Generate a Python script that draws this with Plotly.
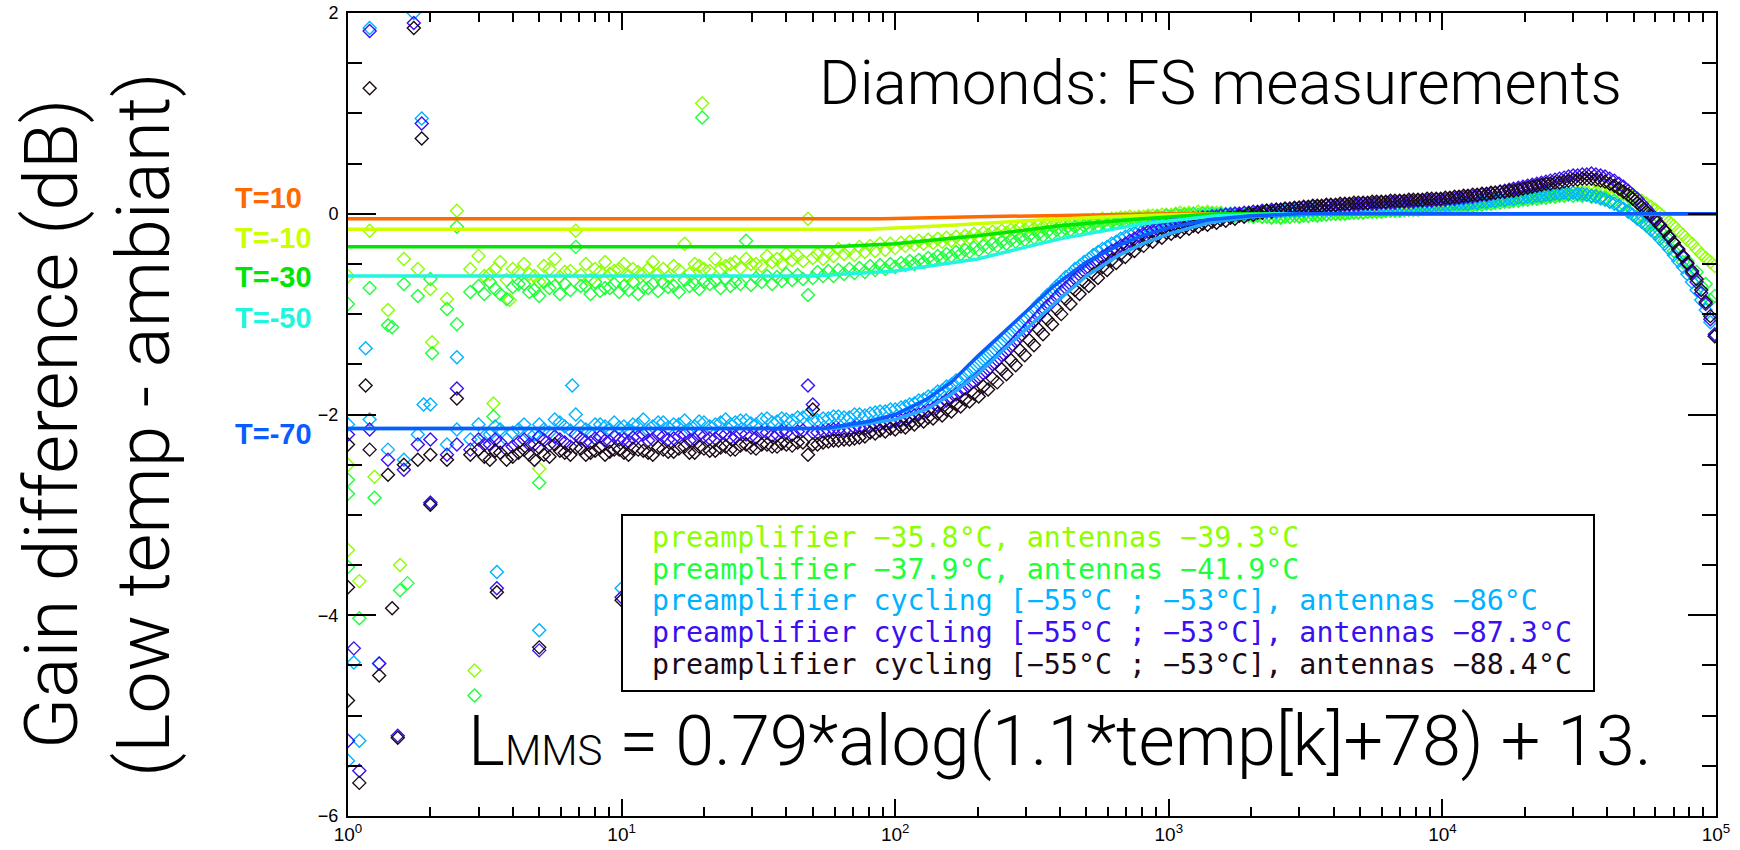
import plotly.graph_objects as go

# ---------------- data ----------------
freq = [1.0, 1.2, 1.4, 1.6, 1.8, 2.0, 2.3, 2.5, 2.8, 3.0, 3.3, 3.6, 4.0, 4.4, 4.8, 5.2, 5.7, 6.2, 6.8, 7.4, 8.0, 8.7, 9.4,
        10.2, 11, 12, 13, 14.2, 15.5, 17, 18.5, 20, 22, 24, 26, 28.5, 31, 34, 37, 40, 44, 48, 52, 57, 62, 68, 74, 81, 88, 96,
        105, 113, 122, 132, 143, 154, 167, 180, 194, 210, 227, 245, 265, 286, 309, 334, 360, 389, 420, 454, 490, 530, 572, 618, 667, 720, 778, 840, 907, 980,
        1060, 1140, 1230, 1330, 1440, 1550, 1680, 1810, 1960, 2110, 2280, 2470, 2660, 2880, 3110, 3360, 3620, 3910, 4230, 4570, 4930, 5330, 5750, 6210, 6710, 7250, 7830, 8450, 9130, 9860,
        10650, 11500, 12400, 13400, 14500, 15600, 16900, 18200, 19700, 21300, 23000, 24800, 26800, 28900, 31200, 33700, 36400, 39300, 42500, 45900, 49600, 53500, 57800, 62400, 67400, 72800, 78600, 84900, 91700, 99000]

# second sweep frequencies
freq_b = [3.15, 3.45, 3.8, 4.2, 4.6, 5.0, 5.45, 5.95, 6.5, 7.1, 7.7, 8.35, 9.05, 9.8,
          10.6, 11.5, 12.5, 13.6, 14.8, 16.2, 17.7, 19.2, 21, 23, 25, 27.2, 29.7, 32.5, 35.5, 38.5, 42, 46, 50, 54.5, 59.5, 65, 71, 77.5, 84.5, 92, 100,
          109, 117.5, 127, 137.5, 148.5, 160.5, 173.5, 187, 202, 218.5, 236, 255, 275.5, 297.5, 321.5, 347, 374.5, 404.5, 437, 472, 510, 551, 595, 642.5, 693.5, 749, 809, 873.5, 943.5, 1020,
          1100, 1185, 1280, 1385, 1495, 1615, 1745, 1885, 2035, 2195, 2375, 2565, 2770, 2995, 3235, 3490, 3765, 4070, 4400, 4750, 5130, 5540, 5980, 6460, 6980, 7540, 8140, 8790, 9495, 10250,
          11075, 11950, 12900, 13950, 15050, 16250, 17550, 18950, 20500, 22150, 23900, 25800, 27850, 30050, 32450, 35050, 37850, 40900, 44200, 47750, 51550, 55650, 60100, 64900, 70100, 75700, 81750, 88300, 95350]

# preamplifier -35.8C, antennas -39.3C
s1_vals = [-0.62, -0.17, -0.96, -0.45, -0.55, -0.75, -0.85, 0.03, -0.55, -0.42, -0.6, -0.48, -0.55, -0.5, -0.62, -0.52, -0.45, -0.58, -0.17, -0.5, -0.55, -0.48, -0.57,
           -0.5, -0.55, -0.6, -0.48, -0.55, -0.52, -0.3, -0.5, -0.55, -0.45, -0.52, -0.48, -0.45, -0.5, -0.42, -0.45, -0.4, -0.42, -0.05, -0.4, -0.38, -0.35, -0.36, -0.33, -0.32, -0.3, -0.3,
           -0.29, -0.28, -0.27, -0.26, -0.25, -0.24, -0.23, -0.22, -0.2, -0.19, -0.18, -0.17, -0.16, -0.14, -0.13, -0.12, -0.11, -0.1, -0.09, -0.08, -0.07, -0.06, -0.05, -0.05, -0.04, -0.03, -0.03, -0.02, -0.02, -0.01,
           0.0, 0.0, 0.0, 0.01, 0.01, 0.01, 0.0, 0.0, -0.01, -0.01, -0.02, -0.02, -0.02, -0.02, -0.01, -0.01, 0.0, 0.0, 0.01, 0.01, 0.02, 0.02, 0.03, 0.03, 0.04, 0.04, 0.05, 0.05, 0.06, 0.06,
           0.07, 0.08, 0.09, 0.1, 0.11, 0.12, 0.13, 0.14, 0.15, 0.16, 0.17, 0.18, 0.19, 0.2, 0.21, 0.22, 0.22, 0.22, 0.21, 0.2, 0.17, 0.13, 0.07, 0.0, -0.08, -0.17, -0.26, -0.35, -0.44, -0.52]
s1b_vals = [-0.62, -0.55, -0.66, -0.58, -0.6, -0.68, -0.55, -0.63, -0.57, -0.61, -0.66, -0.58, -0.6, -0.55,
            -0.62, -0.58, -0.55, -0.6, -0.63, -0.56, -0.6, -0.52, -0.57, -0.55, -0.5, -0.54, -0.5, -0.52, -0.48, -0.5, -0.46, -0.47, -0.44, -0.45, -0.42, -0.4, -0.41, -0.38, -0.37, -0.36, -0.34,
            -0.32, -0.31, -0.3, -0.29, -0.28, -0.27, -0.26, -0.24, -0.23, -0.21, -0.2, -0.19, -0.17, -0.16, -0.15, -0.13, -0.12, -0.11, -0.1, -0.09, -0.08, -0.07, -0.06, -0.05, -0.04, -0.04, -0.03, -0.02, -0.01, -0.01,
            0.01, 0.01, 0.02, 0.02, 0.01, 0.0, 0.0, -0.01, -0.02, -0.03, -0.03, -0.03, -0.03, -0.02, -0.02, -0.01, 0.0, 0.0, 0.01, 0.02, 0.02, 0.03, 0.03, 0.04, 0.05, 0.05, 0.06, 0.06, 0.07, 0.07,
            0.08, 0.09, 0.1, 0.11, 0.12, 0.13, 0.14, 0.15, 0.16, 0.17, 0.18, 0.19, 0.2, 0.21, 0.22, 0.23, 0.23, 0.22, 0.21, 0.19, 0.15, 0.1, 0.04, -0.04, -0.12, -0.21, -0.3, -0.4, -0.48]
s1_extra_f = [1.0, 1.0, 1.1, 1.25, 1.55, 2.03, 2.9, 3.4, 5.0, 19.7, 3.9]
s1_extra_v = [-2.5, -3.35, -3.66, -2.62, -3.5, -1.28, -4.55, -1.89, -2.54, 1.1, -0.86]

# preamplifier -37.9C, antennas -41.9C
s2_vals = [-0.9, -0.74, -1.11, -0.7, -0.82, -0.65, -0.95, -0.13, -0.78, -0.72, -0.68, -0.8, -0.73, -0.7, -0.76, -0.68, -0.72, -0.7, -0.33, -0.72, -0.68, -0.74, -0.7,
           -0.72, -0.68, -0.73, -0.7, -0.69, -0.72, -0.66, -0.7, -0.68, -0.67, -0.65, -0.68, -0.27, -0.64, -0.62, -0.63, -0.6, -0.61, -0.81, -0.58, -0.57, -0.56, -0.55, -0.54, -0.52, -0.51, -0.5,
           -0.49, -0.47, -0.46, -0.44, -0.42, -0.4, -0.38, -0.36, -0.34, -0.32, -0.3, -0.28, -0.26, -0.24, -0.22, -0.2, -0.18, -0.16, -0.15, -0.13, -0.12, -0.1, -0.09, -0.08, -0.07, -0.06, -0.05, -0.04, -0.03, -0.02,
           -0.01, -0.01, 0.0, 0.0, 0.0, 0.0, -0.01, -0.01, -0.02, -0.02, -0.03, -0.03, -0.03, -0.02, -0.02, -0.01, -0.01, 0.0, 0.0, 0.01, 0.01, 0.02, 0.02, 0.03, 0.03, 0.04, 0.04, 0.05, 0.05, 0.06,
           0.06, 0.07, 0.08, 0.09, 0.1, 0.11, 0.12, 0.13, 0.14, 0.15, 0.16, 0.17, 0.18, 0.19, 0.19, 0.19, 0.18, 0.16, 0.13, 0.09, 0.04, -0.02, -0.09, -0.17, -0.26, -0.36, -0.47, -0.58, -0.7, -0.82]
s2b_vals = [-0.8, -0.75, -0.85, -0.7, -0.78, -0.82, -0.74, -0.8, -0.76, -0.72, -0.8, -0.77, -0.74, -0.78,
            -0.76, -0.8, -0.74, -0.77, -0.73, -0.78, -0.72, -0.75, -0.7, -0.74, -0.72, -0.7, -0.71, -0.68, -0.7, -0.67, -0.66, -0.65, -0.64, -0.62, -0.62, -0.6, -0.59, -0.58, -0.56, -0.55, -0.53,
            -0.51, -0.5, -0.48, -0.46, -0.44, -0.42, -0.4, -0.38, -0.36, -0.34, -0.32, -0.3, -0.28, -0.26, -0.24, -0.22, -0.2, -0.18, -0.16, -0.15, -0.13, -0.12, -0.11, -0.09, -0.08, -0.07, -0.06, -0.05, -0.04, -0.03,
            -0.02, -0.01, -0.01, 0.0, -0.01, -0.01, -0.02, -0.02, -0.03, -0.03, -0.04, -0.04, -0.03, -0.03, -0.02, -0.02, -0.01, 0.0, 0.0, 0.01, 0.01, 0.02, 0.02, 0.03, 0.03, 0.04, 0.04, 0.05, 0.05, 0.06,
            0.06, 0.07, 0.08, 0.09, 0.1, 0.11, 0.12, 0.13, 0.14, 0.15, 0.16, 0.17, 0.18, 0.18, 0.18, 0.17, 0.15, 0.12, 0.08, 0.03, -0.03, -0.1, -0.18, -0.27, -0.37, -0.48, -0.6, -0.72, -0.86]
s2_extra_f = [1.0, 1.0, 1.0, 1.1, 1.25, 1.55, 2.03, 2.5, 2.9, 3.4, 5.0, 19.7, 1.65, 1.45]
s2_extra_v = [-2.65, -2.79, -3.52, -4.03, -2.83, -3.75, -1.39, -1.1, -4.8, -2.02, -2.68, 0.96, -3.68, -1.13]

# preamplifier cycling, antennas -86C
s3_vals = [-2.1, -2.05, -2.35, -2.45, -2.2, -1.9, -2.3, -2.15, -2.25, -2.1, -2.2, -2.15, -2.18, -2.1, -2.2, -2.15, -2.05, -2.12, -2.0, -2.15, -2.1, -2.12, -2.08,
           -2.12, -2.1, -2.05, -2.12, -2.08, -2.1, -2.06, -2.12, -2.08, -2.1, -2.05, -2.08, -2.06, -2.1, -2.04, -2.07, -2.05, -2.03, -2.0, -2.06, -2.04, -2.02, -2.03, -2.0, -1.99, -1.97, -1.95,
           -1.93, -1.9, -1.86, -1.82, -1.77, -1.72, -1.66, -1.6, -1.53, -1.45, -1.37, -1.28, -1.19, -1.1, -1.0, -0.9, -0.81, -0.72, -0.63, -0.55, -0.48, -0.41, -0.35, -0.3, -0.25, -0.21, -0.17, -0.14, -0.11, -0.09,
           -0.07, -0.05, -0.04, -0.03, -0.02, -0.01, 0.0, 0.0, 0.01, 0.01, 0.02, 0.02, 0.03, 0.03, 0.03, 0.04, 0.04, 0.04, 0.05, 0.05, 0.05, 0.06, 0.06, 0.06, 0.07, 0.07, 0.07, 0.08, 0.08, 0.09,
           0.09, 0.1, 0.1, 0.11, 0.12, 0.13, 0.14, 0.15, 0.16, 0.17, 0.18, 0.19, 0.2, 0.2, 0.2, 0.19, 0.17, 0.14, 0.1, 0.05, -0.01, -0.08, -0.16, -0.25, -0.35, -0.47, -0.6, -0.76, -0.96, -1.22]
s3b_vals = [-2.22, -2.12, -2.25, -2.15, -2.2, -2.1, -2.18, -2.08, -2.16, -2.12, -2.2, -2.1, -2.15, -2.13,
            -2.15, -2.1, -2.16, -2.08, -2.13, -2.1, -2.15, -2.07, -2.12, -2.08, -2.1, -2.06, -2.09, -2.05, -2.08, -2.04, -2.06, -2.03, -2.05, -2.04, -2.02, -2.03, -2.0, -2.01, -1.98, -1.97, -1.95,
            -1.92, -1.89, -1.85, -1.81, -1.76, -1.7, -1.64, -1.57, -1.49, -1.41, -1.32, -1.23, -1.14, -1.05, -0.95, -0.86, -0.77, -0.68, -0.6, -0.52, -0.45, -0.38, -0.33, -0.28, -0.23, -0.19, -0.16, -0.13, -0.1, -0.08,
            -0.06, -0.05, -0.04, -0.03, -0.02, -0.01, 0.0, 0.0, 0.01, 0.02, 0.02, 0.03, 0.03, 0.03, 0.04, 0.04, 0.04, 0.05, 0.05, 0.05, 0.06, 0.06, 0.06, 0.07, 0.07, 0.07, 0.08, 0.08, 0.09, 0.09,
            0.1, 0.1, 0.11, 0.12, 0.13, 0.14, 0.15, 0.16, 0.17, 0.18, 0.19, 0.2, 0.21, 0.21, 0.2, 0.18, 0.16, 0.12, 0.08, 0.02, -0.05, -0.12, -0.2, -0.3, -0.41, -0.53, -0.68, -0.86, -1.08]
s3_extra_f = [1.2, 1.74, 1.86, 1.16, 2.5, 1.89, 6.6, 2.0, 3.5, 5.0, 10.0, 1.05, 1.3, 1.1, 1.0]
s3_extra_v = [1.85, 2.0, 0.95, -1.34, -1.43, -1.9, -1.71, -2.88, -3.57, -4.15, -3.73, -4.47, -4.48, -5.25, -5.45]

# preamplifier cycling, antennas -87.3C
s4_vals = [-2.2, -2.15, -2.45, -2.55, -2.3, -2.25, -2.4, -2.3, -2.35, -2.25, -2.3, -2.28, -2.32, -2.25, -2.3, -2.26, -2.22, -2.28, -2.2, -2.27, -2.24, -2.26, -2.22,
           -2.25, -2.23, -2.2, -2.25, -2.22, -2.24, -2.2, -2.25, -2.22, -2.24, -2.2, -2.22, -2.2, -2.23, -2.18, -2.2, -2.18, -2.17, -1.71, -2.18, -2.16, -2.15, -2.15, -2.13, -2.12, -2.1, -2.08,
           -2.06, -2.03, -2.0, -1.96, -1.91, -1.86, -1.8, -1.74, -1.67, -1.59, -1.5, -1.41, -1.32, -1.22, -1.12, -1.02, -0.92, -0.83, -0.74, -0.65, -0.57, -0.5, -0.43, -0.37, -0.32, -0.27, -0.22, -0.18, -0.15, -0.12,
           -0.1, -0.08, -0.06, -0.04, -0.03, -0.02, -0.01, 0.0, 0.01, 0.02, 0.03, 0.04, 0.05, 0.05, 0.06, 0.07, 0.07, 0.08, 0.08, 0.09, 0.09, 0.1, 0.1, 0.11, 0.11, 0.12, 0.12, 0.13, 0.13, 0.14,
           0.15, 0.16, 0.17, 0.18, 0.19, 0.21, 0.23, 0.25, 0.27, 0.29, 0.31, 0.33, 0.35, 0.37, 0.38, 0.39, 0.39, 0.37, 0.33, 0.27, 0.19, 0.1, 0.0, -0.11, -0.23, -0.36, -0.5, -0.68, -0.9, -1.2]
s4b_vals = [-2.3, -2.25, -2.35, -2.28, -2.3, -2.22, -2.3, -2.25, -2.32, -2.24, -2.28, -2.22, -2.27, -2.25,
            -2.27, -2.22, -2.26, -2.2, -2.25, -2.22, -2.26, -2.2, -2.24, -2.2, -2.23, -2.19, -2.22, -2.18, -2.21, -2.17, -2.2, -2.16, -2.18, -2.17, -2.15, -2.16, -2.13, -2.14, -2.11, -2.1, -2.07,
            -2.05, -2.01, -1.98, -1.94, -1.89, -1.83, -1.77, -1.7, -1.63, -1.55, -1.46, -1.37, -1.27, -1.17, -1.07, -0.97, -0.88, -0.78, -0.7, -0.61, -0.54, -0.47, -0.4, -0.35, -0.3, -0.25, -0.2, -0.17, -0.14, -0.11,
            -0.09, -0.07, -0.05, -0.04, -0.03, -0.01, 0.0, 0.01, 0.02, 0.03, 0.04, 0.04, 0.05, 0.06, 0.06, 0.07, 0.08, 0.08, 0.09, 0.09, 0.1, 0.1, 0.11, 0.11, 0.12, 0.12, 0.13, 0.13, 0.14, 0.14,
            0.15, 0.16, 0.17, 0.19, 0.2, 0.22, 0.24, 0.26, 0.28, 0.3, 0.32, 0.34, 0.36, 0.38, 0.39, 0.4, 0.38, 0.35, 0.3, 0.23, 0.15, 0.05, -0.05, -0.17, -0.29, -0.43, -0.59, -0.79, -1.05]
s4_extra_f = [1.2, 1.74, 1.86, 2.5, 2.0, 3.5, 5.0, 10.0, 1.05, 1.3, 1.0, 1.1, 1.52, 50.0]
s4_extra_v = [1.82, 1.9, 0.9, -1.74, -2.88, -3.73, -4.35, -3.82, -4.33, -4.48, -5.25, -5.55, -5.2, -1.9]

# preamplifier cycling, antennas -88.4C
s5_vals = [-2.3, -2.35, -2.6, -2.5, -2.45, -2.4, -2.45, -1.84, -2.4, -2.35, -2.45, -2.38, -2.42, -2.35, -2.45, -2.4, -2.3, -2.38, -2.33, -2.4, -2.36, -2.4, -2.35,
           -2.38, -2.34, -2.36, -2.4, -2.35, -2.37, -2.32, -2.38, -2.34, -2.36, -2.32, -2.35, -2.3, -2.34, -2.3, -2.32, -2.3, -2.28, -2.4, -2.3, -2.27, -2.26, -2.25, -2.23, -2.18, -2.16, -2.14,
           -2.12, -2.09, -2.06, -2.03, -1.99, -1.95, -1.9, -1.85, -1.79, -1.72, -1.64, -1.55, -1.46, -1.36, -1.26, -1.15, -1.05, -0.95, -0.85, -0.76, -0.68, -0.6, -0.53, -0.46, -0.4, -0.35, -0.3, -0.26, -0.22, -0.19,
           -0.17, -0.14, -0.12, -0.1, -0.08, -0.06, -0.04, -0.02, 0.0, 0.01, 0.03, 0.04, 0.05, 0.06, 0.07, 0.08, 0.08, 0.09, 0.1, 0.1, 0.11, 0.11, 0.12, 0.12, 0.13, 0.13, 0.14, 0.14, 0.15, 0.15,
           0.16, 0.17, 0.18, 0.19, 0.2, 0.21, 0.22, 0.23, 0.25, 0.27, 0.29, 0.3, 0.31, 0.33, 0.34, 0.35, 0.34, 0.32, 0.28, 0.22, 0.15, 0.07, -0.02, -0.12, -0.23, -0.35, -0.49, -0.65, -0.88, -1.22]
s5b_vals = [-2.42, -2.36, -2.45, -2.38, -2.4, -2.33, -2.42, -2.36, -2.4, -2.34, -2.38, -2.33, -2.37, -2.35,
            -2.4, -2.35, -2.38, -2.33, -2.37, -2.34, -2.38, -2.32, -2.36, -2.33, -2.35, -2.31, -2.33, -2.3, -2.32, -2.29, -2.31, -2.28, -2.3, -2.28, -2.26, -2.25, -2.24, -2.22, -2.19, -2.17, -2.15,
            -2.13, -2.1, -2.07, -2.04, -2.01, -1.97, -1.92, -1.87, -1.82, -1.75, -1.68, -1.6, -1.51, -1.41, -1.31, -1.2, -1.1, -1.0, -0.9, -0.8, -0.72, -0.64, -0.56, -0.49, -0.43, -0.37, -0.32, -0.28, -0.24, -0.2,
            -0.18, -0.15, -0.13, -0.11, -0.09, -0.07, -0.05, -0.03, -0.01, 0.01, 0.02, 0.04, 0.05, 0.06, 0.07, 0.08, 0.09, 0.09, 0.1, 0.11, 0.11, 0.12, 0.12, 0.13, 0.13, 0.14, 0.14, 0.15, 0.15, 0.16,
            0.17, 0.18, 0.19, 0.2, 0.21, 0.22, 0.23, 0.24, 0.26, 0.28, 0.3, 0.31, 0.32, 0.34, 0.35, 0.35, 0.33, 0.3, 0.25, 0.19, 0.11, 0.02, -0.07, -0.17, -0.29, -0.42, -0.57, -0.76, -1.02]
s5_extra_f = [1.2, 1.74, 1.86, 1.16, 2.0, 3.5, 5.0, 10.0, 1.3, 1.0, 1.1, 1.52, 1.0, 1.45, 50.0]
s5_extra_v = [1.25, 1.85, 0.75, -1.71, -2.9, -3.77, -4.32, -3.85, -4.6, -4.85, -5.67, -5.22, -3.72, -3.93, -1.95]

series_names = ["preamplifier \u221235.8\u00b0C, antennas \u221239.3\u00b0C",
                "preamplifier \u221237.9\u00b0C, antennas \u221241.9\u00b0C",
                "preamplifier cycling [\u221255\u00b0C ; \u221253\u00b0C], antennas \u221286\u00b0C",
                "preamplifier cycling [\u221255\u00b0C ; \u221253\u00b0C], antennas \u221287.3\u00b0C",
                "preamplifier cycling [\u221255\u00b0C ; \u221253\u00b0C], antennas \u221288.4\u00b0C"]
series_colors = ["#8CFF00", "#1EFF3C", "#00B2FF", "#3A10F0", "#1C0A18"]

# model curves L_MMS for several temperatures
model_labels = ["T=10", "T=-10", "T=-30", "T=-50", "T=-70"]
model_colors = ["#FF6A00", "#CCFF00", "#00E600", "#22F5DD", "#0A5CFF"]
m10_f = [1, 90, 200, 500, 1000, 100000]
m10_v = [-0.05, -0.05, -0.03, -0.01, 0.0, 0.0]
m_10_f = [1, 80, 150, 300, 600, 1000, 2000, 100000]
m_10_v = [-0.155, -0.155, -0.12, -0.07, -0.03, -0.01, 0.0, 0.0]
m_30_f = [1, 60, 100, 200, 400, 800, 1500, 100000]
m_30_v = [-0.33, -0.33, -0.3, -0.22, -0.12, -0.05, 0.0, 0.0]
m_50_f = [1, 50, 100, 200, 400, 800, 1500, 2500, 100000]
m_50_v = [-0.62, -0.62, -0.57, -0.45, -0.25, -0.1, -0.02, 0.0, 0.0]
m_70b_f = [1, 60, 100, 130, 160, 200, 250, 300, 380, 500, 650, 800, 1000, 1400, 2000, 3000, 100000]
m_70b_v = [-2.14, -2.14, -2.05, -1.95, -1.8, -1.6, -1.35, -1.15, -0.9, -0.62, -0.42, -0.3, -0.2, -0.09, -0.03, 0.0, 0.0]
m_70_f = [1, 55, 80, 100, 130, 160, 200, 250, 300, 380, 500, 650, 800, 1000, 1400, 2000, 3000, 100000]
m_70_v = [-2.14, -2.14, -2.07, -2.0, -1.85, -1.68, -1.42, -1.18, -0.98, -0.72, -0.48, -0.32, -0.22, -0.14, -0.06, -0.02, 0.0, 0.0]

x_tickvals = [1, 10, 100, 1000, 10000, 100000]
x_ticktext = ["10<sup>0</sup>", "10<sup>1</sup>", "10<sup>2</sup>", "10<sup>3</sup>", "10<sup>4</sup>", "10<sup>5</sup>"]
y_tickvals = [2, 0, -2, -4, -6]
y_ticktext = ["2", "0", "\u22122", "\u22124", "\u22126"]

# ---------------- figure ----------------
W, H = 1740, 850
PL, PR, PT, PB = 348, 1716, 13, 816

def px(xp):
    return (xp - PL) / (PR - PL)

def py(yp):
    return (PB - yp) / (PB - PT)

fig = go.Figure()
all_series = [(s1_vals, s1b_vals, s1_extra_f, s1_extra_v), (s2_vals, s2b_vals, s2_extra_f, s2_extra_v),
              (s3_vals, s3b_vals, s3_extra_f, s3_extra_v), (s4_vals, s4b_vals, s4_extra_f, s4_extra_v),
              (s5_vals, s5b_vals, s5_extra_f, s5_extra_v)]
for (vals, bvals, ef, ev), col, name in zip(all_series, series_colors, series_names):
    fig.add_trace(go.Scatter(x=freq + freq_b + ef, y=vals + bvals + ev, mode="markers", name=name,
                             marker=dict(symbol="diamond-open", size=10, color=col, line=dict(width=1.4, color=col)),
                             showlegend=False))

models = [(m10_f, m10_v, model_colors[0]), (m_10_f, m_10_v, model_colors[1]), (m_30_f, m_30_v, model_colors[2]),
          (m_50_f, m_50_v, model_colors[3]), (m_70b_f, m_70b_v, "#2AA8FF"), (m_70_f, m_70_v, model_colors[4])]
for f, v, col in models:
    fig.add_trace(go.Scatter(x=f, y=v, mode="lines", line=dict(color=col, width=3.5), showlegend=False))

axis_common = dict(showline=True, linecolor="black", linewidth=2, mirror="allticks", ticks="inside",
                   tickcolor="black", tickwidth=1.5, showgrid=False, zeroline=False, automargin=False)

fig.update_xaxes(type="log", range=[0, 5], tickmode="array", tickvals=x_tickvals, ticktext=x_ticktext,
                 ticklen=17, ticklabelstandoff=0,
                 tickfont=dict(family="Liberation Sans", size=19, color="black"),
                 minor=dict(tickmode="array", tickvals=[k * 10 ** d for d in range(5) for k in range(2, 10)],
                            ticks="inside", ticklen=9, tickwidth=1.5, tickcolor="black", showgrid=False),
                 **axis_common)
fig.update_yaxes(range=[-6, 2], tickmode="array", tickvals=y_tickvals, ticktext=y_ticktext, ticklen=28,
                 ticklabelstandoff=4,
                 tickfont=dict(family="Liberation Sans", size=18, color="black"),
                 minor=dict(dtick=0.5, ticks="inside", ticklen=14, tickwidth=1.5, tickcolor="black", showgrid=False),
                 **axis_common)

annotations = []
# Y title (two lines)
annotations.append(dict(text="Gain difference (dB)", x=px(51), y=py(424), xref="paper", yref="paper",
                        textangle=-90, showarrow=False, xanchor="center", yanchor="middle",
                        font=dict(family="Roboto", size=75, color="black", weight=300)))
annotations.append(dict(text="(Low temp - ambiant)", x=px(143), y=py(424), xref="paper", yref="paper",
                        textangle=-90, showarrow=False, xanchor="center", yanchor="middle",
                        font=dict(family="Roboto", size=75, color="black", weight=300)))
# T labels
t_label_y = [0.16, -0.24, -0.63, -1.04, -2.19]
for lab, col, yv in zip(model_labels, model_colors, t_label_y):
    annotations.append(dict(text=lab, x=px(233), y=yv, xref="paper", yref="y", showarrow=False,
                            xanchor="left", yanchor="middle",
                            font=dict(family="Liberation Sans", size=29, color=col, weight="bold")))
# title text
annotations.append(dict(text="Diamonds: FS measurements", x=px(1220), y=py(82), xref="paper", yref="paper",
                        showarrow=False, xanchor="center", yanchor="middle",
                        font=dict(family="Roboto", size=62, color="black", weight=300)))
# equation
annotations.append(dict(text="L<span style='font-size:42px'>MMS</span> = 0.79*alog(1.1*temp[k]+78) + 13.",
                        x=px(466), y=py(741), xref="paper", yref="paper", showarrow=False,
                        xanchor="left", yanchor="middle",
                        font=dict(family="Roboto", size=70, color="black", weight=300)))
# legend text lines
leg_y = [537, 569, 600, 632, 664]
for name, col, yy in zip(series_names, series_colors, leg_y):
    annotations.append(dict(text=name, x=px(650), y=py(yy), xref="paper", yref="paper", showarrow=False,
                            xanchor="left", yanchor="middle",
                            font=dict(family="DejaVu Sans Mono", size=28.3, color=col)))

fig.update_layout(width=W, height=H, autosize=False,
                  margin=dict(l=PL, r=W - PR, t=PT, b=H - PB, pad=0, autoexpand=False),
                  plot_bgcolor="white", paper_bgcolor="white",
                  annotations=annotations,
                  shapes=[dict(type="rect", xref="paper", yref="paper", x0=px(622), x1=px(1594), y0=py(691), y1=py(515),
                               line=dict(color="black", width=2), fillcolor="white", layer="above")])

fig.write_html("out.html")
